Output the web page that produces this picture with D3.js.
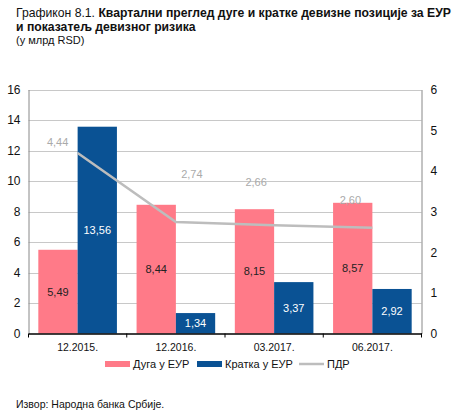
<!DOCTYPE html>
<html><head><meta charset="utf-8">
<script src="https://cdn.jsdelivr.net/npm/d3@7"></script>
<style>body{margin:0;background:#fff;} svg{display:block;font-family:Arial,"Liberation Sans",sans-serif;}</style>
</head><body>
<script>
const categories = ["12.2015.", "12.2016.", "03.2017.", "06.2017."];
const longEUR = [5.49, 8.44, 8.15, 8.57];
const shortEUR = [13.56, 1.34, 3.37, 2.92];
const pdr = [4.44, 2.74, 2.66, 2.60];
const leftTicks = [0, 2, 4, 6, 8, 10, 12, 14, 16];
const rightTicks = [0, 1, 2, 3, 4, 5, 6];
const seriesNames = ["Дуга у ЕУР", "Кратка  у ЕУР", "ПДР"];
// label offsets for ПДР values (layout, not data)
const pdrLabelOffsets = [[-20, -11], [16, -48], [-18, -43], [-22, -28]];

const W = 464, H = 416;
const m = {left: 28.5, right: 421.5, top: 89.5, bottom: 333.5};
const fmt = v => v.toFixed(2).replace(".", ",");
const pink = "#ff7a88", blue = "#0a5294", gray = "#bdbdbd";

const svg = d3.select("body").append("svg").attr("width", W).attr("height", H);

// Title
const t1 = svg.append("text").attr("x", 16).attr("y", 17).attr("font-size", 12.2).attr("fill", "#111");
t1.append("tspan").text("Графикон 8.1. ");
t1.append("tspan").attr("font-weight", "bold").text("Квартални преглед дуге и кратке девизне позиције  за ЕУР");
svg.append("text").attr("x", 16).attr("y", 31).attr("font-size", 12.2).attr("font-weight", "bold").attr("fill", "#111")
  .text("и показатељ девизног ризика");
svg.append("text").attr("x", 16).attr("y", 44).attr("font-size", 11).attr("fill", "#111").text("(у млрд RSD)");

const x = d3.scaleBand().domain(categories).range([m.left, m.right]).paddingInner(0.2).paddingOuter(0.1);
const xOuter = d3.scaleBand().domain(categories).range([m.left, m.right]);
const yL = d3.scaleLinear().domain([0, 16]).range([m.bottom, m.top]);
const yR = d3.scaleLinear().domain([0, 6]).range([m.bottom, m.top]);

// grid
svg.append("g").selectAll("line").data(leftTicks.filter(d => d > 0)).join("line")
  .attr("x1", m.left).attr("x2", m.right)
  .attr("y1", d => Math.round(yL(d)) + 0.5).attr("y2", d => Math.round(yL(d)) + 0.5)
  .attr("stroke", "#c8c8c8").attr("stroke-width", 1);

const sub = d3.scaleBand().domain([0, 1]).range([0, x.bandwidth()]);

// bars
const g = svg.append("g");
categories.forEach((c, i) => {
  const x0 = x(c);
  g.append("rect").attr("x", x0 + sub(0)).attr("width", sub.bandwidth())
    .attr("y", yL(longEUR[i])).attr("height", yL(0) - yL(longEUR[i])).attr("fill", pink);
  g.append("rect").attr("x", x0 + sub(1)).attr("width", sub.bandwidth())
    .attr("y", yL(shortEUR[i])).attr("height", yL(0) - yL(shortEUR[i])).attr("fill", blue);
  g.append("text").attr("x", x0 + sub(0) + sub.bandwidth() / 2).attr("y", (yL(longEUR[i]) + yL(0)) / 2 + 4)
    .attr("text-anchor", "middle").attr("font-size", 11).attr("fill", "#222").text(fmt(longEUR[i]));
  g.append("text").attr("x", x0 + sub(1) + sub.bandwidth() / 2).attr("y", (yL(shortEUR[i]) + yL(0)) / 2 + 4)
    .attr("text-anchor", "middle").attr("font-size", 11).attr("fill", "#fff").text(fmt(shortEUR[i]));
});

// line
const lx = c => xOuter(c) + xOuter.bandwidth() / 2;
svg.append("path").datum(pdr)
  .attr("d", d3.line().x((d, i) => lx(categories[i])).y(d => yR(d)))
  .attr("fill", "none").attr("stroke", gray).attr("stroke-width", 2.5);
svg.append("g").selectAll("text").data(pdr).join("text")
  .attr("x", (d, i) => lx(categories[i]) + pdrLabelOffsets[i][0])
  .attr("y", (d, i) => yR(d) + pdrLabelOffsets[i][1] + 4)
  .attr("text-anchor", "middle").attr("font-size", 11).attr("fill", "#aaa").text(d => fmt(d));

// axes
const axL = svg.append("g").attr("transform", `translate(${m.left},0)`)
  .call(d3.axisLeft(yL).tickValues(leftTicks).tickSize(0).tickPadding(8));
axL.select(".domain").attr("stroke", "#888");
axL.selectAll("text").attr("font-size", 12).attr("fill", "#111").attr("font-family", "Arial,'Liberation Sans',sans-serif");

const axR = svg.append("g").attr("transform", `translate(${m.right},0)`)
  .call(d3.axisRight(yR).tickValues(rightTicks).tickFormat(d3.format("d")).tickSize(0).tickPadding(9));
axR.select(".domain").attr("stroke", "#888");
axR.selectAll("text").attr("font-size", 12).attr("fill", "#111").attr("font-family", "Arial,'Liberation Sans',sans-serif");

const axB = svg.append("g").attr("transform", `translate(0,${m.bottom})`)
  .call(d3.axisBottom(xOuter).tickSize(0).tickPadding(10));
axB.select(".domain").attr("stroke", "#000").attr("stroke-width", 1.3);
axB.selectAll("text").attr("font-size", 10.5).attr("fill", "#111").attr("font-family", "Arial,'Liberation Sans',sans-serif");
// category boundary ticks
svg.append("g").selectAll("line").data(categories).join("line")
  .attr("x1", d => xOuter(d) + xOuter.bandwidth()).attr("x2", d => xOuter(d) + xOuter.bandwidth())
  .attr("y1", m.bottom).attr("y2", m.bottom + 4).attr("stroke", "#000");
svg.append("line").attr("x1", m.left).attr("x2", m.left).attr("y1", m.bottom).attr("y2", m.bottom + 4).attr("stroke", "#000");

// legend
const leg = svg.append("g").attr("font-size", 11).attr("fill", "#111");
const legItems = [
  {x: 105, type: "rect", color: pink},
  {x: 197, type: "rect", color: blue},
  {x: 299, type: "line", color: gray}
];
legItems.forEach((it, i) => {
  if (it.type === "rect") leg.append("rect").attr("x", it.x).attr("y", 361).attr("width", 25).attr("height", 6).attr("fill", it.color);
  else leg.append("line").attr("x1", it.x).attr("x2", it.x + 25).attr("y1", 364).attr("y2", 364).attr("stroke", it.color).attr("stroke-width", 2.5);
  leg.append("text").attr("x", it.x + 28).attr("y", 368).text(seriesNames[i]);
});

svg.append("text").attr("x", 16).attr("y", 408).attr("font-size", 10.5).attr("fill", "#111").text("Извор: Народна банка  Србије.");
</script>
</body></html>
